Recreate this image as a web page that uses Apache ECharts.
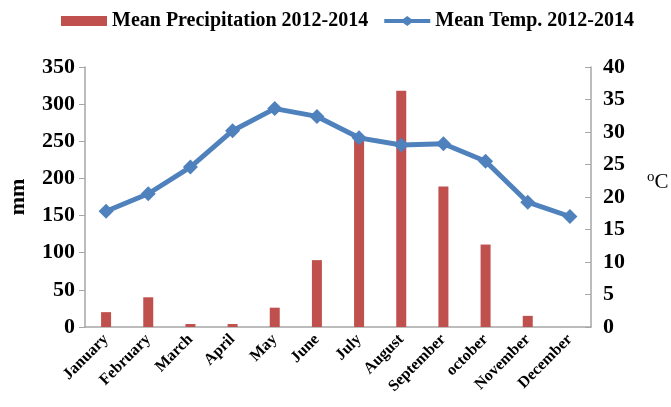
<!DOCTYPE html>
<html>
<head>
<meta charset="utf-8">
<script src="https://cdn.jsdelivr.net/npm/echarts@6/dist/echarts.min.js"></script>
<style>
html, body { margin: 0; padding: 0; background: #fff; }
#climateChart { width: 671px; height: 407px; }
</style>
</head>
<body>
<div id="climateChart"></div>
<script>
var months = ['January', 'February', 'March', 'April', 'May', 'June', 'July', 'August', 'September', 'october', 'November', 'December'];
var precipitation = [20, 40, 4, 4, 26, 90, 255, 318, 189, 111, 15, 0];
var temperature = [17.8, 20.5, 24.6, 30.2, 33.6, 32.4, 29.1, 28.0, 28.2, 25.5, 19.2, 17.0];
var mmTicks = [0, 350, 50];
var tempTicks = [0, 40, 5];

var climateChart = echarts.init(document.getElementById('climateChart'));
var serif = '"Liberation Serif", "Times New Roman", serif';
var axisGray = '#a6a6a6';

var option = {
    animation: false,
    textStyle: {fontFamily: serif},
    legend: {
        top: 6,
        left: 56,
        itemGap: 16,
        itemWidth: 46,
        itemHeight: 10,
        textStyle: {fontFamily: serif, fontWeight: 'bold', fontSize: 20, color: '#000'},
        data: [
            {name: 'Mean Precipitation 2012-2014', icon: 'rect', itemStyle: {color: '#c0504d'}},
            {
                name: 'Mean Temp. 2012-2014',
                // thick line with a diamond in the middle
                icon: 'path://M0,3L19,3L23,0L27,3L46,3L46,7L27,7L23,10L19,7L0,7Z',
                itemStyle: {color: '#4f81bd'}
            }
        ]
    },
    grid: {left: 85, right: 80, top: 67, bottom: 80, outerBoundsMode: 'none'},
    xAxis: {
        type: 'category',
        data: months,
        axisLine: {lineStyle: {color: axisGray, width: 1.5}},
        axisTick: {show: false},
        axisLabel: {
            interval: 0,
            rotate: 45,
            margin: 10,
            fontFamily: serif,
            fontWeight: 'bold',
            fontSize: 16,
            color: '#000'
        }
    },
    yAxis: [
        {
            type: 'value',
            min: mmTicks[0],
            max: mmTicks[1],
            interval: mmTicks[2],
            name: 'mm',
            nameLocation: 'middle',
            nameGap: 56,
            nameRotate: 90,
            nameTextStyle: {fontFamily: serif, fontWeight: 'bold', fontSize: 22, color: '#000'},
            axisLine: {show: true, lineStyle: {color: axisGray, width: 1.5}},
            axisTick: {show: true, length: 6, lineStyle: {color: axisGray}},
            splitLine: {show: false},
            axisLabel: {fontFamily: serif, fontWeight: 'bold', fontSize: 22, color: '#000', margin: 10}
        },
        {
            type: 'value',
            min: tempTicks[0],
            max: tempTicks[1],
            interval: tempTicks[2],
            name: '{sup|o}{c|C}',
            nameLocation: 'middle',
            nameGap: 56,
            nameRotate: 0,
            nameTextStyle: {
                padding: [0, 0, 30, 0],
                rich: {
                    sup: {fontFamily: serif, fontSize: 15, color: '#000', verticalAlign: 'top', padding: [0, 0, 10, 0]},
                    c: {fontFamily: serif, fontSize: 21, color: '#000'}
                }
            },
            axisLine: {show: true, lineStyle: {color: axisGray, width: 1.5}},
            axisTick: {show: true, inside: true, length: 6, lineStyle: {color: axisGray}},
            splitLine: {show: false},
            axisLabel: {fontFamily: serif, fontWeight: 'bold', fontSize: 22, color: '#000', margin: 12}
        }
    ],
    series: [
        {
            name: 'Mean Precipitation 2012-2014',
            type: 'bar',
            yAxisIndex: 0,
            barWidth: 10,
            itemStyle: {color: '#c0504d'},
            data: precipitation
        },
        {
            name: 'Mean Temp. 2012-2014',
            type: 'line',
            yAxisIndex: 1,
            symbol: 'diamond',
            symbolSize: 15,
            lineStyle: {color: '#4f81bd', width: 5},
            itemStyle: {color: '#4f81bd'},
            data: temperature
        }
    ]
};
climateChart.setOption(option);
</script>
</body>
</html>
